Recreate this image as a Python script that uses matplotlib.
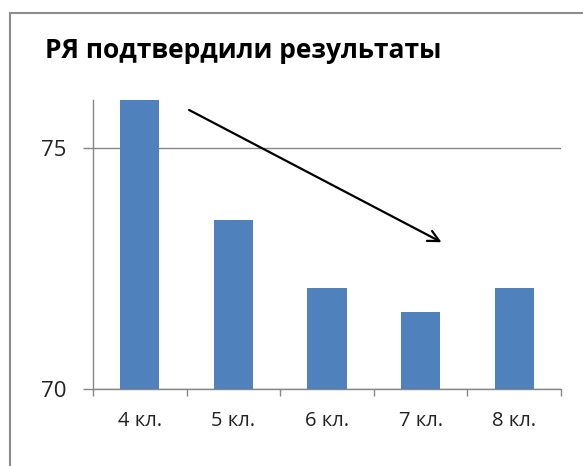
import matplotlib.pyplot as plt
from matplotlib.patches import Rectangle

plt.rcParams['font.family'] = ['Open Sans', 'DejaVu Sans']

# data
classes = ['4 кл.', '5 кл.', '6 кл.', '7 кл.', '8 кл.']
scores = [76.0, 73.5, 72.1, 71.6, 72.1]
y_ticks = [70, 75]

bar_color = '#4f81bd'
axis_color = '#868686'

fig = plt.figure(figsize=(5.83, 4.66), dpi=100)

# outer chart frame (cropped on the right and bottom)
fig.patches.append(Rectangle((10 / 583, -0.1), 1.2, 1 - 13 / 466 + 0.1,
                             transform=fig.transFigure, fill=False,
                             edgecolor='#8c8c8c', linewidth=1.5))

ax = fig.add_axes([93 / 583, 1 - 389 / 466, (561 - 93) / 583, (389 - 100) / 466])

x = list(range(len(classes)))
ax.bar(x, scores, width=0.42, color=bar_color, zorder=3)

ax.set_xlim(-0.5, len(classes) - 0.5)
ax.set_ylim(70, 76)
ax.set_yticks(y_ticks)
ax.set_yticklabels([str(t) for t in y_ticks], fontsize=16, color='#222222')
ax.set_xticks(x)
ax.set_xticklabels(classes, fontsize=14.5, color='#222222')
ax.tick_params(axis='x', length=0, pad=16)
ax.tick_params(axis='y', length=7, width=1, color=axis_color, pad=12)

# category boundary ticks on x axis
ax.set_xticks([i - 0.5 for i in range(len(classes) + 1)], minor=True)
ax.tick_params(axis='x', which='minor', length=5, width=1, color=axis_color)

ax.yaxis.grid(True, color=axis_color, linewidth=1, zorder=0)
for s in ['top', 'right']:
    ax.spines[s].set_visible(False)
for s in ['left', 'bottom']:
    ax.spines[s].set_color(axis_color)
    ax.spines[s].set_linewidth(1)

# trend arrow
ax.annotate('', xy=(3.25, 73.02), xytext=(0.5, 75.82),
            arrowprops=dict(arrowstyle='->', color='black', lw=1.6,
                            mutation_scale=20), annotation_clip=False)

fig.text(45 / 583, 1 - 50 / 466, 'РЯ подтвердили результаты', fontsize=19,
         fontweight='bold', va='center', ha='left', color='black')

fig.savefig('out.png', dpi=100)
